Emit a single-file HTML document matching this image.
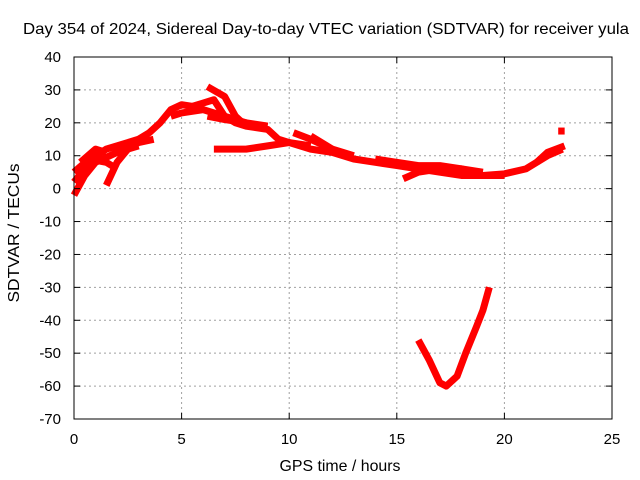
<!DOCTYPE html>
<html><head><meta charset="utf-8"><style>
body{margin:0;background:#fff;}
svg{display:block;font-family:"Liberation Sans",sans-serif;}
</style></head><body>
<svg id="chart" width="640" height="480">
<text x="326" y="34" font-size="16" text-anchor="middle" textLength="606" lengthAdjust="spacingAndGlyphs">Day 354 of 2024, Sidereal Day-to-day VTEC variation (SDTVAR) for receiver yula</text>
<text x="340" y="471" font-size="16" text-anchor="middle" textLength="121" lengthAdjust="spacingAndGlyphs">GPS time / hours</text>
<text transform="translate(19,233) rotate(-90)" font-size="16" text-anchor="middle" textLength="139" lengthAdjust="spacingAndGlyphs">SDTVAR / TECUs</text>
<g id="grid"></g><g id="series"></g><g id="axes"></g>
</svg>
<script>
const xTicks=[0,5,10,15,20,25];
const yTicks=[40,30,20,10,0,-10,-20,-30,-40,-50,-60,-70];
const track1=[[0,2],[0.5,6],[1,10],[1.5,12],[2,13],[3,15],[3.5,17],[4,20],[4.5,24],[5,25.5],[5.5,25],[6,26],[6.5,27],[7,22],[7.5,20],[8,19],[9,18],[9.5,15],[10,14],[11,12],[12,11],[13,9],[14,8],[15,7],[16,6],[17,5],[18,4],[19,4],[20,4.5],[21,6],[22,10],[22.7,12]];
const track2=[[0,-2],[0.5,4],[1,8],[2,11],[3,13]];
const track3=[[0.3,8],[1,12],[1.5,11]];
const track4=[[1.5,1],[2,8],[2.5,12],[3,14],[3.7,15]];
const track5=[[4.5,22],[5,23],[6,24],[7,22],[8,20]];
const track6=[[6.2,31],[7,28],[7.5,22],[8,19]];
const track7=[[6.2,22],[7,21],[8,20],[9,19]];
const track8=[[6.5,12],[7,12],[8,12],[9,13],[10,14],[11,13]];
const track9=[[10.2,17],[11,15],[12,12]];
const track10=[[15.3,3],[16,5],[17,6],[18,6],[19,5]];
const track11=[[16,-46],[16.5,-52],[17,-59],[17.3,-60],[17.8,-57],[18.2,-50],[18.7,-42],[19,-37],[19.3,-30]];
const track12=[[22.5,17.5],[22.8,17.5]];
const track13=[[11,16],[12,12],[13,10]];
const track14=[[0,5],[0.7,9],[1.5,8],[2,6]];
const track15=[[21.5,8],[22,11],[22.8,13]];
const track16=[[14,9],[15,8],[16,7],[17,7],[18,6],[19,4],[20,4]];
const tracks=[track1,track2,track3,track4,track5,track6,track7,track8,track9,track10,track11,track12,track13,track14,track15,track16];
const L=74,R=612,T=57,B=419;
const xs=v=>L+(v-0)/25*(R-L);
const ys=v=>T+(40-v)/110*(B-T);
const NS="http://www.w3.org/2000/svg";
const g=document.getElementById('grid'),s=document.getElementById('series'),a=document.getElementById('axes');
function mk(tag,attrs,parent){const e=document.createElementNS(NS,tag);for(const k in attrs)e.setAttribute(k,attrs[k]);parent.appendChild(e);return e;}
xTicks.forEach(t=>{const x=xs(t);
 if(t>0&&t<25){const l=mk('line',{x1:x,x2:x,y1:T,y2:B,stroke:'#a0a0a0','stroke-dasharray':'2,3'},g);
 
 }
 const tk=mk('line',{x1:x,x2:x,y1:B,y2:B-6,stroke:'#000'},a);
 
 
 mk('line',{x1:x,x2:x,y1:T,y2:T+6,stroke:'#000'},a);
 const tx=mk('text',{x:x,y:B+25,'font-size':15,'text-anchor':'middle'},a);tx.textContent=t;
 
 });
yTicks.forEach(t=>{const y=ys(t);
 if(t<40&&t>-70){const l=mk('line',{x1:L,x2:R,y1:y,y2:y,stroke:'#a0a0a0','stroke-dasharray':'2,3'},g);
 
 }
 const tk=mk('line',{x1:L,x2:L+6,y1:y,y2:y,stroke:'#000'},a);
 
 
 mk('line',{x1:R,x2:R-6,y1:y,y2:y,stroke:'#000'},a);
 const tx=mk('text',{x:L-13,y:y+5,'font-size':15,'text-anchor':'end'},a);tx.textContent=t;
 
 });
const fr=mk('rect',{x:L,y:T,width:R-L,height:B-T,fill:'none',stroke:'#000'},a);


tracks.forEach(tr=>{const p=mk('polyline',{points:tr.map(q=>xs(q[0])+','+ys(q[1])).join(' '),fill:'none',stroke:'#ff0000','stroke-width':7,'stroke-linejoin':'round'},s);
 
 });
</script>
</body></html>
